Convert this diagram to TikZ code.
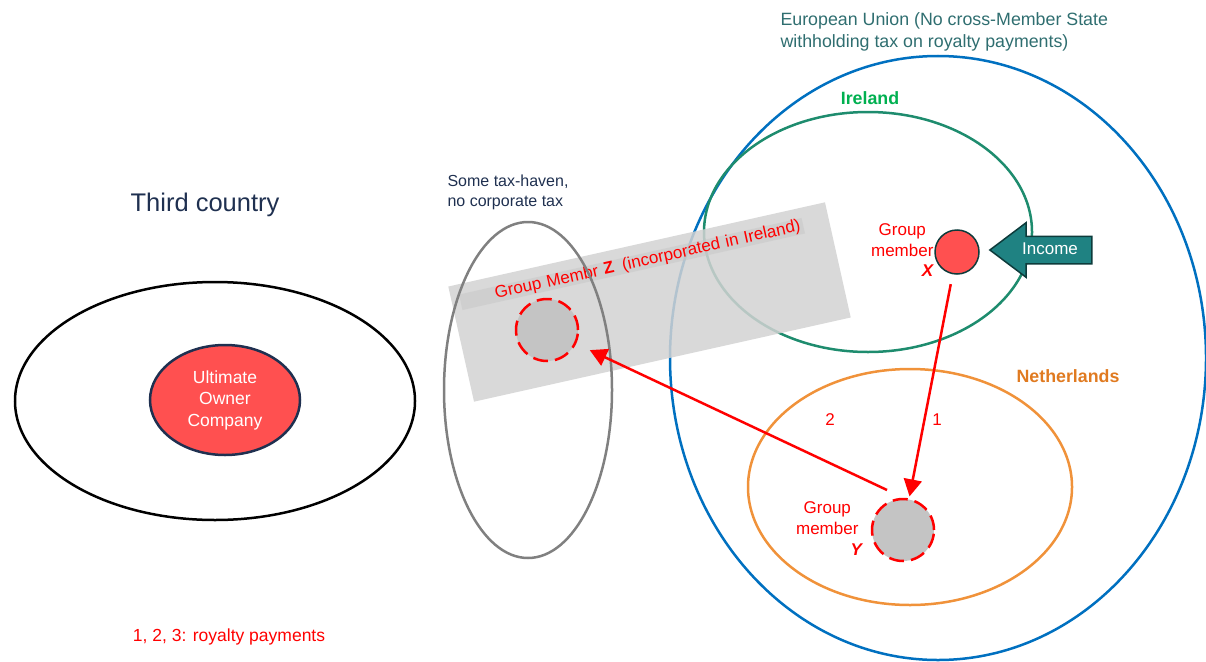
\documentclass[tikz,border=0pt]{standalone}
\usepackage{fontspec}
\setmainfont{Liberation Sans}
\usetikzlibrary{arrows.meta,shapes.arrows,shapes.geometric,positioning}
\definecolor{navy}{HTML}{1F3050}
\definecolor{euteal}{HTML}{2F6E70}
\definecolor{eublue}{HTML}{0070C0}
\definecolor{irgreen}{HTML}{1E8C6E}
\definecolor{irtext}{HTML}{00B050}
\definecolor{nlorange}{HTML}{F0923A}
\definecolor{nltext}{HTML}{E07A20}
\definecolor{coral}{HTML}{FF5050}
\definecolor{memgray}{HTML}{C4C4C4}
\definecolor{bandgray}{HTML}{D2D2D2}
\definecolor{incteal}{HTML}{1F8282}
\definecolor{incdark}{HTML}{0D3B3B}
\begin{document}
\begin{tikzpicture}[x=1pt, y=-1pt,
        fs/.style 2 args = {font=\fontsize{#1}{#2}\selectfont},
        lbl/.style = {fs={17}{21}, text=red, align=center},
      member/.style = {circle, minimum size=62, fill=memgray, draw=red,
                      line width=2.5pt, dash pattern=on 15pt off 7pt},
         pay/.style = {red, line width=2.5pt,
                      -{Triangle[length=17pt,width=18pt]}}
                        ]
    \useasboundingbox (0,0) rectangle (1206,661);
    % regions
    \draw[line width=2.5pt, black]   (215,401) ellipse [x radius=200, y radius=119];
    \draw[line width=2.5pt, eublue]  (938,358) ellipse [x radius=268, y radius=302];
    \draw[line width=2.5pt, irgreen] (868,232) ellipse [x radius=164, y radius=120];
    \draw[line width=2.5pt, nlorange] (910,487) ellipse [x radius=162, y radius=118];
    % tax-haven band
    \node[rotate=12.6, minimum width=386, minimum height=118, fill=bandgray,
          fill opacity=0.85] (band) at (649.5,302) {};
    \node[rotate=12.6, fill=gray!45, fill opacity=0.5, text opacity=1,
          lbl, inner ysep=0pt, inner xsep=3pt, text width=345, align=right] (bandlbl) at (632,264)
          {Group Membr \textbf{Z}\enspace(incorporated in Ireland)};
    \draw[line width=2.5pt, gray] (528,390) ellipse [x radius=84, y radius=168];
    % region labels
    \node[fs={25.5}{30}, text=navy] (third) at (205,205) {Third country};
    \node[fs={16}{20}, text=navy, align=left, anchor=west] (haven) at (444,192)
          {Some tax-haven,\\no corporate tax};
    \node[fs={17.8}{22}, text=euteal, align=left, anchor=west] (eu) at (777,32)
          {European Union (No cross-Member State\\withholding tax on royalty payments)};
    \node[fs={17.8}{20}, text=irtext] (ireland) at (870,98) {\textbf{Ireland}};
    \node[fs={17.8}{20}, text=nltext] (nl) at (1068,376) {\textbf{Netherlands}};
    % companies
    \node[ellipse, draw=navy, line width=2.5pt, fill=coral, minimum width=150,
          minimum height=110, text=white, align=center,
          fs={17.5}{21.5}] (uoc) at (225,400) {Ultimate\\Owner\\Company};
    \node[member] (Z) at (547,330) {};
    \node[circle, minimum size=44, fill=coral, draw=incdark, line width=1.5pt] (X) at (957,252) {};
    \node[member] (Y) at (903,530) {};
    \node[lbl, anchor=east] (Xlbl) at (937,240) {Group\\member};
    \node[lbl] (Xid) at (928,271) {\textbf{\textit{X}}};
    \node[lbl, anchor=east] (Ylbl) at (862,518) {Group\\member};
    \node[lbl] (Yid) at (857,550) {\textbf{\textit{Y}}};
    % income
    \node[single arrow, shape border rotate=180, fill=incteal, draw=incdark,
          line width=1.5pt, text=white, fs={17}{20}, minimum height=102, minimum width=53,
          single arrow head extend=13.5, single arrow tip angle=74,
          text height=9pt, text depth=0pt, inner ysep=8.5pt] (inc) at (1050,250) {Income};
    % royalty payments
    \coordinate (y2) at (887,490);
    \draw[pay, shorten <=10pt, shorten >=2pt] (X) -- (Y);
    \draw[pay, shorten >=15pt] (y2) -- (Z);
    \node[lbl] (p1) at (937,420) {1};
    \node[lbl] (p2) at (830,420) {2};
    \node[lbl, fs={17.5}{20}] (note) at (229,637) {1, 2, 3: royalty payments};
\end{tikzpicture}
\end{document}
